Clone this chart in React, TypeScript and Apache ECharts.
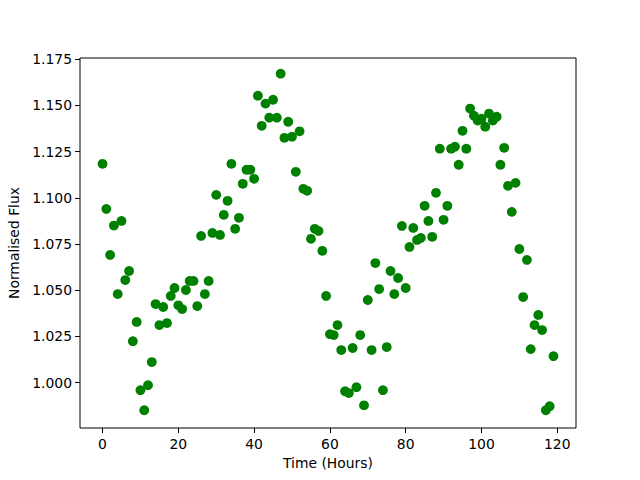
import React, { useEffect, useRef } from "react";
import * as echarts from "echarts";

const hours: number[] = Array.from({ length: 120 }, (_, i) => i);
const flux: number[] = [
  1.1184, 1.094, 1.0691, 1.085, 1.0479, 1.0875, 1.0555, 1.0604, 1.0224, 1.0328,
  0.9959, 0.985, 0.9986, 1.0111, 1.0425, 1.0311, 1.0409, 1.0322, 1.0469, 1.0512,
  1.0418, 1.0398, 1.0501, 1.055, 1.055, 1.0414, 1.0794, 1.0479, 1.055, 1.081,
  1.1016, 1.0799, 1.0908, 1.0984, 1.1184, 1.0832, 1.0892, 1.1076, 1.1152, 1.1152,
  1.1103, 1.1553, 1.139, 1.151, 1.1434, 1.1531, 1.1434, 1.1672, 1.1325, 1.1412,
  1.1331, 1.1141, 1.136, 1.1049, 1.1038, 1.0778, 1.0832, 1.0821, 1.0713, 1.0469,
  1.0262, 1.0257, 1.0311, 1.0176, 0.9953, 0.9943, 1.0187, 0.9975, 1.0257, 0.9877,
  1.0447, 1.0176, 1.0647, 1.0506, 0.9959, 1.0192, 1.0604, 1.0479, 1.0566, 1.0848,
  1.0512, 1.0734, 1.0837, 1.0772, 1.0783, 1.0957, 1.0875, 1.0789, 1.1027, 1.1266,
  1.0881, 1.0957, 1.1266, 1.1277, 1.1179, 1.1363, 1.1266, 1.1483, 1.1445, 1.1418,
  1.1428, 1.1385, 1.1456, 1.1418, 1.1439, 1.1179, 1.1271, 1.1065, 1.0924, 1.1081,
  1.0723, 1.0463, 1.0664, 1.0181, 1.0311, 1.0366, 1.0284, 0.985, 0.9872, 1.0143,
];
const xTicks: number[] = [0, 20, 40, 60, 80, 100, 120];
const yTicks: number[] = [1.0, 1.025, 1.05, 1.075, 1.1, 1.125, 1.15, 1.175];

export default function App() {
  const ref = useRef<HTMLDivElement>(null);
  useEffect(() => {
    if (!ref.current) return;
    const chart = echarts.init(ref.current, undefined, { renderer: "svg" });
    const font = "DejaVu Sans";
    const fs = 13.9;
    chart.setOption({
      animation: false,
      backgroundColor: "#ffffff",
      grid: {
        left: 80,
        right: 64,
        top: 58,
        bottom: 52,
        containLabel: false,
        outerBoundsMode: "none",
        show: true,
        borderColor: "#000000",
        borderWidth: 1,
        backgroundColor: "transparent",
      },
      xAxis: {
        type: "value",
        min: -5.95,
        max: 124.95,
        name: "Time (Hours)",
        nameLocation: "middle",
        nameGap: 28,
        nameTextStyle: { color: "#000", fontFamily: font, fontSize: fs, verticalAlign: "top" },
        axisLine: { show: false, onZero: false },
        splitLine: { show: false },
        axisTick: {
          show: true,
          inside: false,
          length: 5,
          lineStyle: { color: "#000", width: 1 },
          customValues: xTicks,
        },
        axisLabel: {
          color: "#000",
          fontFamily: font,
          fontSize: fs,
          margin: 9,
          customValues: xTicks,
          formatter: (v: number) => String(Math.round(v)),
        },
      },
      yAxis: {
        type: "value",
        min: 0.9754,
        max: 1.1757,
        name: "Normalised Flux",
        nameLocation: "middle",
        nameGap: 53,
        nameRotate: 90,
        nameTextStyle: { color: "#000", fontFamily: font, fontSize: fs },
        axisLine: { show: false, onZero: false },
        splitLine: { show: false },
        axisTick: {
          show: true,
          inside: false,
          length: 5,
          lineStyle: { color: "#000", width: 1 },
          customValues: yTicks,
        },
        axisLabel: {
          color: "#000",
          fontFamily: font,
          fontSize: fs,
          margin: 8,
          customValues: yTicks,
          formatter: (v: number) => v.toFixed(3),
        },
      },
      series: [
        {
          type: "scatter",
          data: hours.map((h, i) => [h, flux[i]]),
          symbol: "circle",
          symbolSize: 9.8,
          itemStyle: { color: "#008000", opacity: 1 },
        },
      ],
    });
    return () => chart.dispose();
  }, []);
  return <div ref={ref} style={{ width: 640, height: 480, position: "absolute", left: 0, top: 0 }} />;
}
